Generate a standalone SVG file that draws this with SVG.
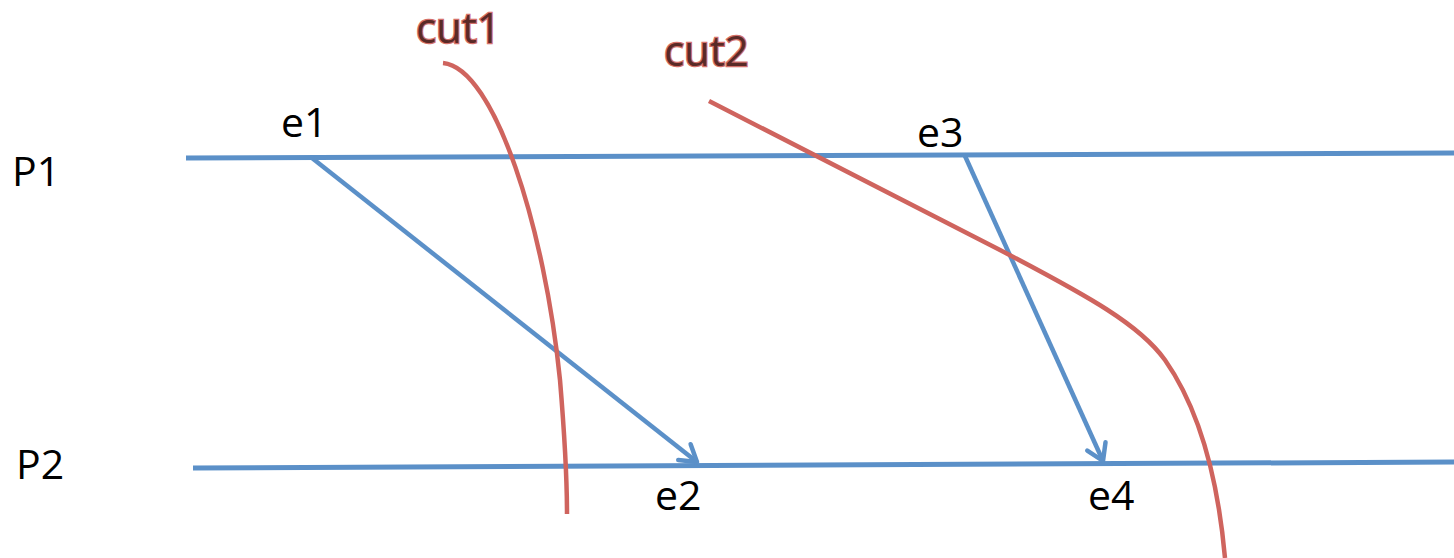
<svg xmlns="http://www.w3.org/2000/svg" width="1454" height="558" viewBox="0 0 1454 558">
<style>
.proc{stroke:#5b90c8;stroke-width:5;fill:none}
.msg{stroke:#5b90c8;stroke-width:4.5;fill:none;marker-end:url(#arr)}
.cut{stroke:#cf645e;stroke-width:4.5;fill:none}
.lbl{font-family:"Open Sans","Liberation Sans",sans-serif;font-size:41px;fill:#000}
.cutlbl{font-family:"Open Sans","Liberation Sans",sans-serif;font-size:42px;fill:#5a2a27;stroke:#d4706a;stroke-width:2.5;paint-order:stroke}
</style>
<defs>
<marker id="arr" markerWidth="12" markerHeight="12" refX="10" refY="6" orient="auto" markerUnits="userSpaceOnUse" viewBox="0 0 12 12" overflow="visible">
<path d="M-6,-4 L10,6 L-6,16" fill="none" stroke="#5b90c8" stroke-width="4.5" stroke-linejoin="round" stroke-linecap="round"/>
</marker>
</defs>
<g id="processes">
<line class="proc" x1="186" y1="158" x2="1454" y2="153"/>
<line class="proc" x1="193" y1="468" x2="1454" y2="462"/>
</g>
<g id="connectors">
<line class="msg" x1="312" y1="158" x2="697" y2="462"/>
<line class="msg" x1="965" y1="156" x2="1103" y2="461"/>
</g>
<g id="cut1">
<path class="cut" d="M443,63 C495,68 545,230 560,380 C565,440 567,480 567,514"/>
<text class="cutlbl" x="416" y="43">cut1</text>
</g>
<g id="cut2">
<path class="cut" d="M709,101 L1000,250 C1090,297 1140,325 1165,360 C1200,410 1218,480 1225,558"/>
<text class="cutlbl" x="664" y="66">cut2</text>
</g>
<g id="P1"><text class="lbl" x="12" y="186">P1</text></g>
<g id="P2"><text class="lbl" x="16" y="479">P2</text></g>
<g id="e1"><text class="lbl" x="281" y="137">e1</text></g>
<g id="e2"><text class="lbl" x="655" y="510">e2</text></g>
<g id="e3"><text class="lbl" x="917" y="147">e3</text></g>
<g id="e4"><text class="lbl" x="1088" y="510">e4</text></g>
</svg>
